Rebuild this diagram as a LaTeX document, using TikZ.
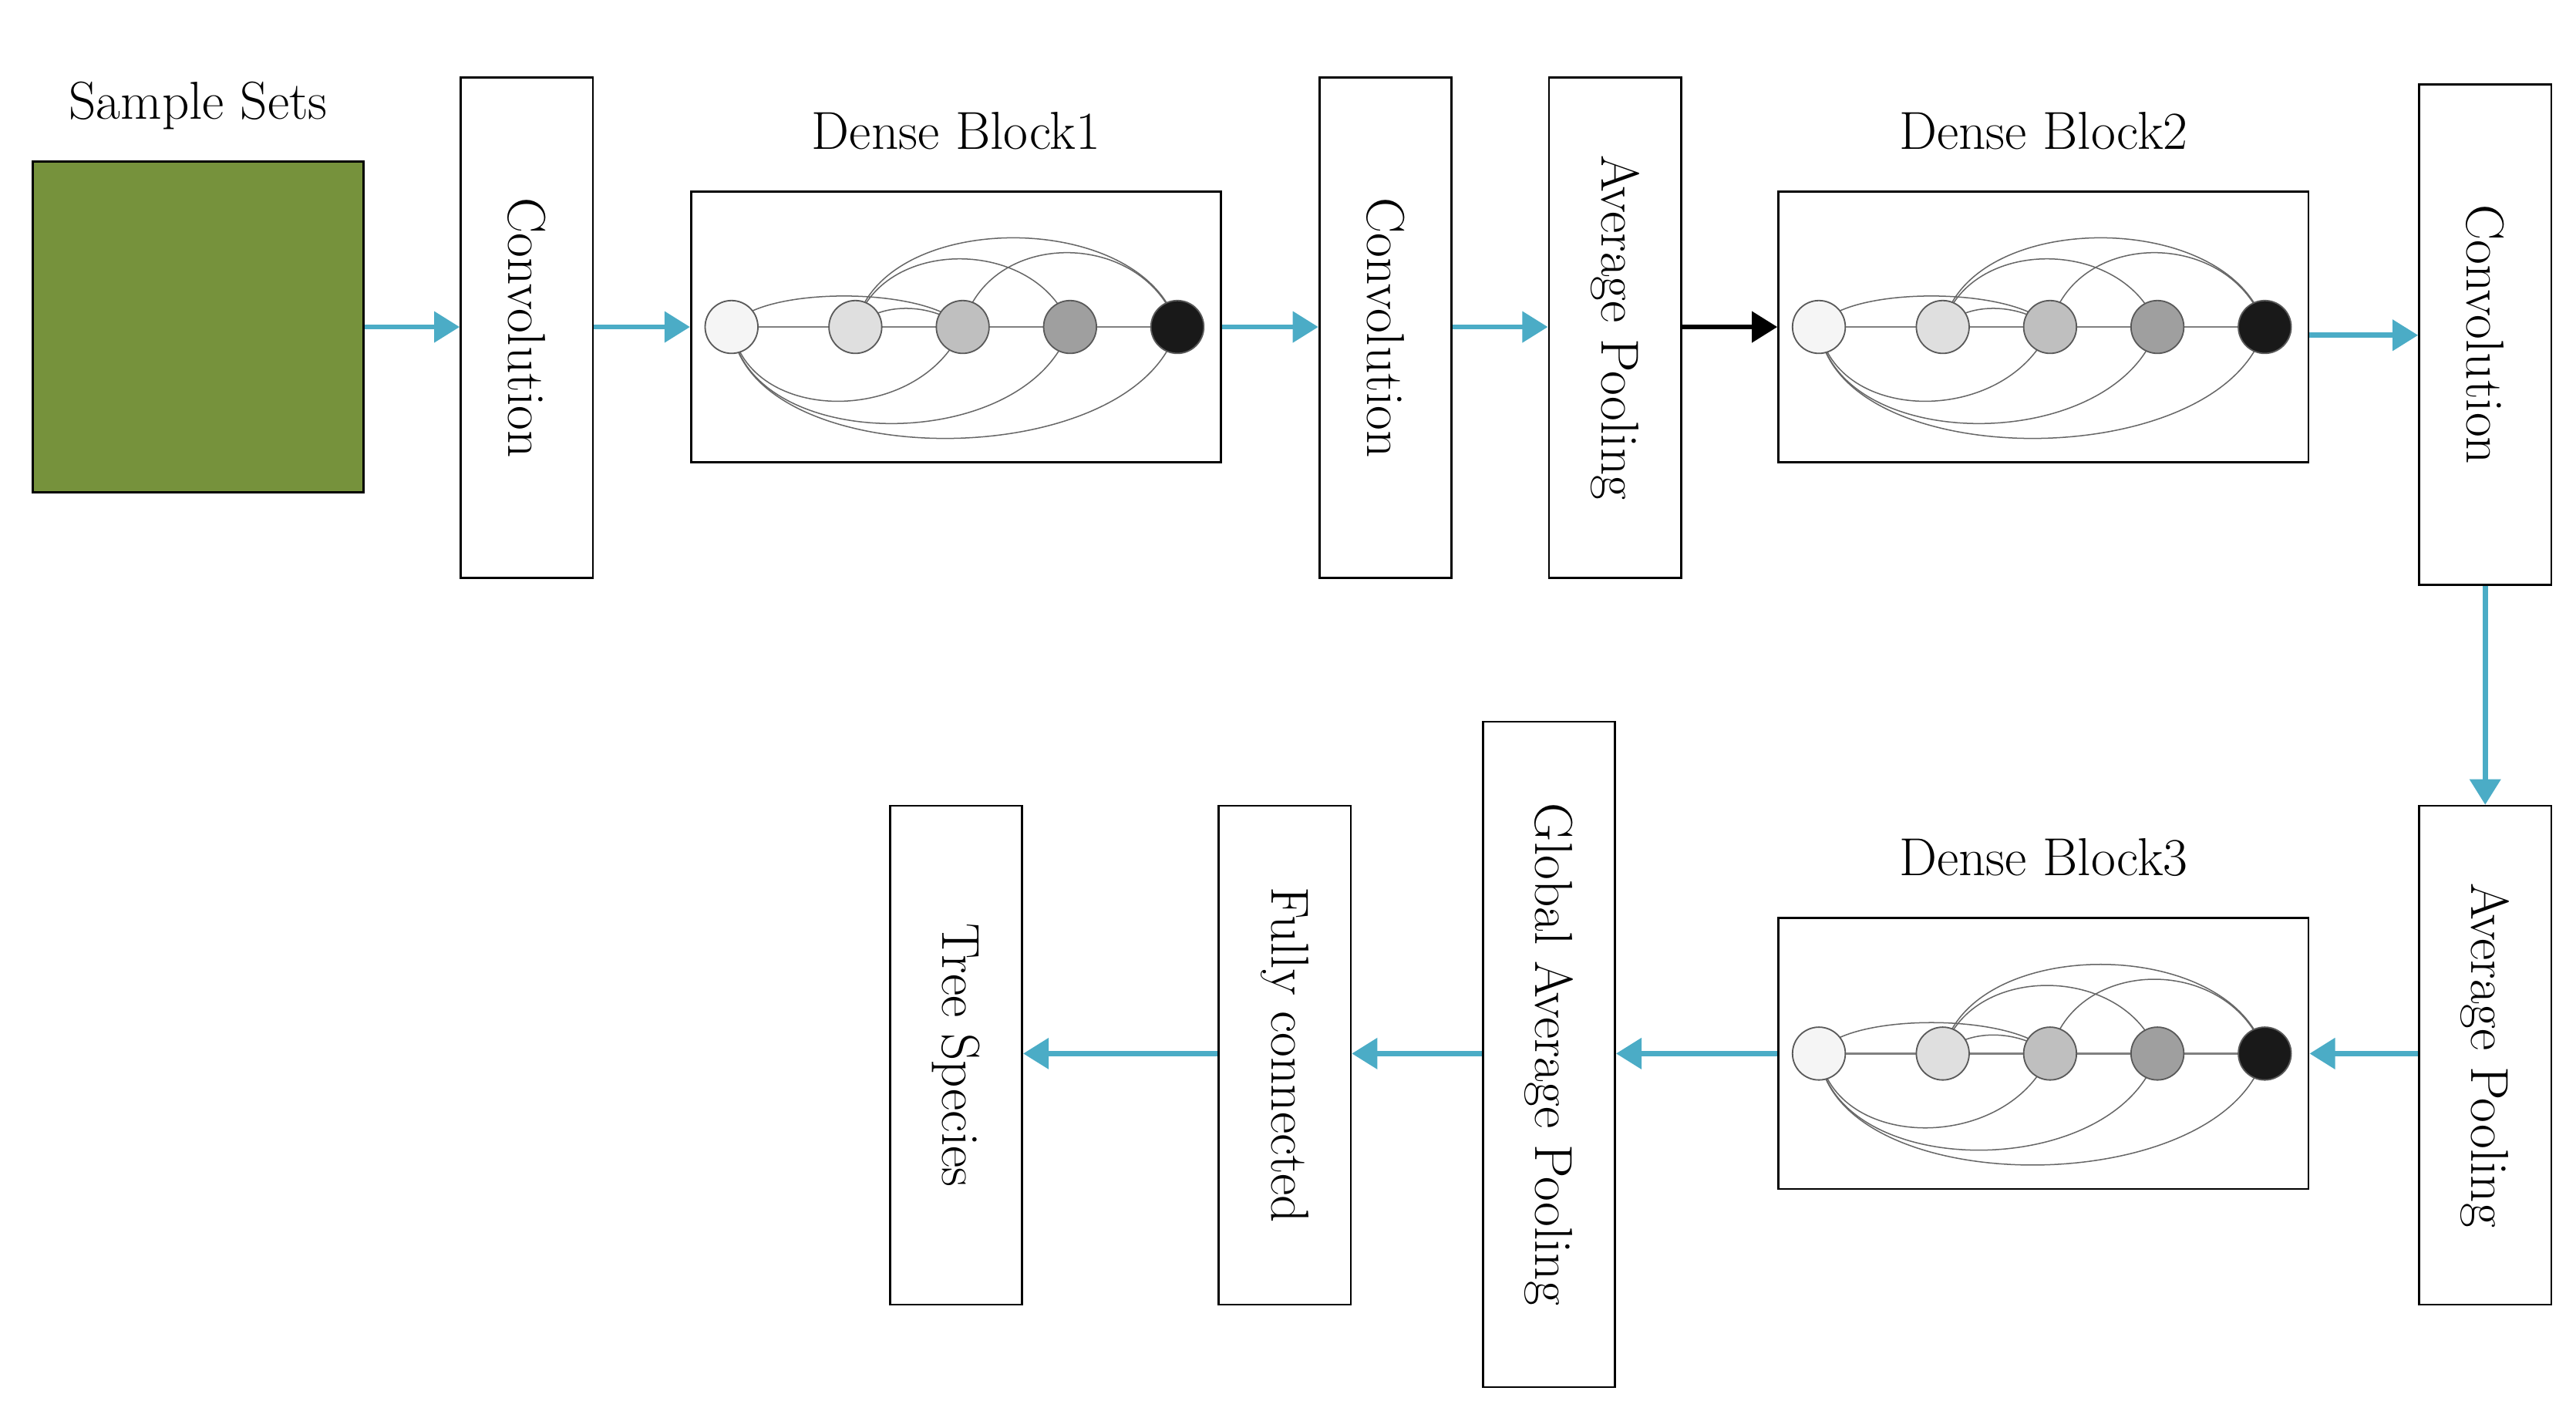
\documentclass[tikz,border=0pt]{standalone}
\usetikzlibrary{arrows.meta,calc}
\begin{document}
\begin{tikzpicture}[x=0.05cm,y=-0.05cm,
 box/.style={draw,line width=1.8pt,fill=white,inner sep=0},
 lbl/.style={font=\fontsize{46}{55}\selectfont},
 vt/.style={lbl,rotate=-90},
 ba/.style={draw={rgb,255:red,75;green,172;blue,198},line width=4.5pt,-{Triangle[length=22pt,width=26pt]}},
 ka/.style={draw=black,line width=4.5pt,-{Triangle[length=22pt,width=26pt]}}]
\useasboundingbox (0,0) rectangle (1560,848);
\definecolor{grn}{RGB}{118,146,60}
% sample
\node[lbl] (sl) at (120,64) {Sample Sets};
\node[draw,line width=2pt,fill=grn,minimum width=10cm,minimum height=10cm,inner sep=0] (ss) at (120,198) {};
% boxes
\newcommand{\vbx}[5]{\node[box,minimum width=4cm,minimum height=#4*0.05cm] (#1) at (#2,#3) {}; \node[vt] at (#1) {#5};}
\vbx{c1}{319}{198.5}{303}{Convolution}
\vbx{c2}{839}{198.5}{303}{Convolution}
\vbx{p1}{978}{198.5}{303}{Average Pooling}
\vbx{c3}{1505}{202.5}{303}{Convolution}
\vbx{p2}{1505}{639}{302}{Average Pooling}
\vbx{gp}{938}{638.5}{403}{Global Average Pooling}
\vbx{fc}{778}{639}{302}{Fully connected}
\vbx{ts}{579}{639}{302}{Tree Species}
% dense blocks
\newcommand{\dblock}[4]{%
 \node[box,minimum width=16.05cm,minimum height=8.2cm] (#1) at (#2,#3) {};
 \node[lbl,anchor=south] at (#2,#3-105) {#4};
 \begin{scope}[shift={(#2-160,#3)}]
 \coordinate (#1n1) at (24,0); \coordinate (#1n2) at (99,0); \coordinate (#1n3) at (164,0);
 \coordinate (#1n4) at (229,0); \coordinate (#1n5) at (294,0);
 \draw[gray,line width=1.5pt] (#1n1)--(#1n5);
 \foreach \a/\b/\h in {1/3/-60,1/4/-78,1/5/-90}{\draw[gray!80!black,line width=1pt] (#1n\a) .. controls ($(#1n\a)+(10,-\h)$) and ($(#1n\b)+(-25,-\h)$) .. (#1n\b);}
 \foreach \a/\b/\h in {2/4/55,2/5/72,3/5/60,1/3/25,2/3/15}{\draw[gray!80!black,line width=1pt] (#1n\a) .. controls ($(#1n\a)+(15,-\h)$) and ($(#1n\b)+(-20,-\h)$) .. (#1n\b);}
 \foreach \i/\c in {1/gray!8,2/gray!25,3/gray!50,4/gray!75,5/black!90}{\node[circle,draw=gray!70!black,line width=1.2pt,fill=\c,minimum size=1.6cm,inner sep=0] at (#1n\i) {};}
 \end{scope}}
\dblock{d1}{579}{198}{Dense Block1}
\dblock{d2}{1237.5}{198}{Dense Block2}
\dblock{d3}{1237.5}{638}{Dense Block3}
% arrows
\draw[ba] (ss.east|-0,198) -- (c1.west|-0,198);
\draw[ba] (c1.east|-0,198) -- (d1.west|-0,198);
\draw[ba] (d1.east|-0,198) -- (c2.west|-0,198);
\draw[ba] (c2.east|-0,198) -- (p1.west|-0,198);
\draw[ka] (p1.east|-0,198) -- (d2.west|-0,198);
\draw[ba] (d2.east|-0,203) -- (c3.west|-0,203);
\draw[ba] (c3.south) -- (p2.north);
\draw[ba] (p2.west|-0,638) -- (d3.east|-0,638);
\draw[ba] (d3.west|-0,638) -- (gp.east|-0,638);
\draw[ba] (gp.west|-0,638) -- (fc.east|-0,638);
\draw[ba] (fc.west|-0,638) -- (ts.east|-0,638);
\end{tikzpicture}
\end{document}
